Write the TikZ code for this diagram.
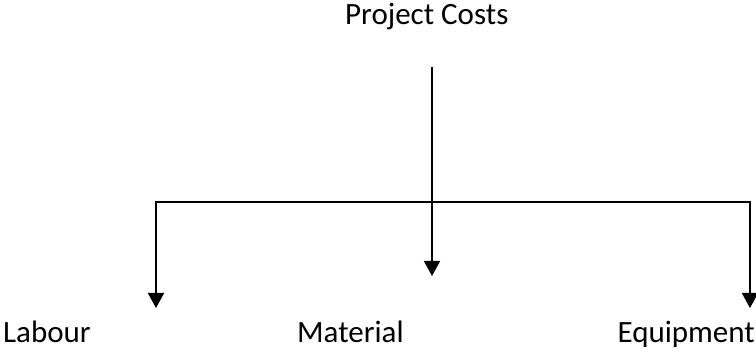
\documentclass[tikz,border=0pt]{standalone}
\usepackage{fontspec}
\setmainfont{Carlito}
\usetikzlibrary{arrows.meta}
\begin{document}
\begin{tikzpicture}[x=1pt,y=-1pt,
  fleche/.style={line width=1.8pt,-{Triangle[width=16pt,length=15pt]}},
  label/.style={font=\fontsize{31}{36}\selectfont,inner sep=0pt}]
\useasboundingbox (0,0) rectangle (756,352);

% titre en haut
\node[label,anchor=base west] (costs) at (345,25) {Project Costs};

% points de la barre et bouts des fleches
\coordinate (src) at (432,67);
\coordinate (bar) at (432,202);
\coordinate (tipL) at (156,308);
\coordinate (tipM) at (432,276);
\coordinate (tipR) at (750,308);

% fleches
\draw[fleche] (src) -- (tipM);
\draw[fleche] (bar) -| (tipL);
\draw[fleche] (bar) -| (tipR);

% labels du bas
\node[label,anchor=base west] (labour) at (3,343) {Labour};
\node[label,anchor=base west] (material) at (297,343) {Material};
\node[label,anchor=base east] (equip) at (755,343) {Equipment};
\end{tikzpicture}
\end{document}
